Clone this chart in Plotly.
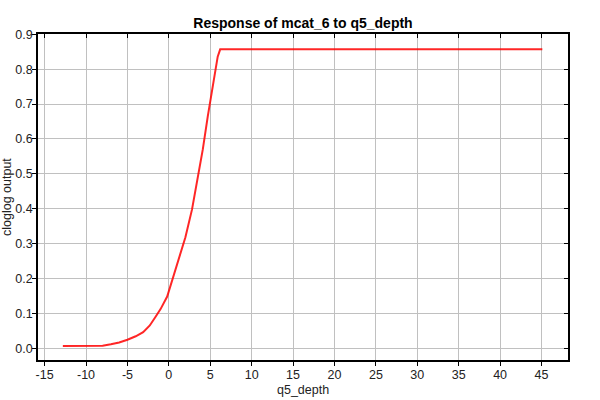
import plotly.graph_objects as go

# response curve
q5_depth = [-12.8, -11.0, -9.5, -8.0, -7.0, -6.0, -5.0, -4.0, -3.1, -2.3, -1.6,
            -1.0, -0.2, 0.2, 0.7, 1.2, 2.0, 2.8, 3.5, 4.1, 4.7, 5.3, 5.9, 6.2,
            10.0, 20.0, 30.0, 40.0, 45.1]
cloglog = [0.006, 0.006, 0.006, 0.007, 0.011, 0.016, 0.024, 0.034, 0.046, 0.065,
           0.090, 0.112, 0.148, 0.180, 0.215, 0.253, 0.318, 0.398, 0.485, 0.570,
           0.665, 0.755, 0.836, 0.857, 0.857, 0.857, 0.857, 0.857, 0.857]

x_ticks = list(range(-15, 50, 5))
y_ticks = [0.0, 0.1, 0.2, 0.3, 0.4, 0.5, 0.6, 0.7, 0.8, 0.9]
x_range = [-15.8, 48.2]
y_range = [-0.034, 0.901]

font = dict(family='Liberation Sans, Arial, sans-serif', size=12.5, color='#222')

fig = go.Figure()
fig.add_trace(go.Scatter(x=q5_depth, y=cloglog, mode='lines',
                         line=dict(color='rgba(255,0,0,0.85)', width=2),
                         showlegend=False, hoverinfo='skip'))
# invisible trace on mirrored axes so the inside ticks on top/right get drawn
fig.add_trace(go.Scatter(x=[x_range[0]], y=[y_range[0]], xaxis='x2', yaxis='y2',
                         mode='markers', marker=dict(opacity=0),
                         showlegend=False, hoverinfo='skip'))

axis_common = dict(showline=True, linecolor='black', linewidth=1.5,
                   ticks='outside', ticklen=4, tickcolor='black',
                   gridcolor='#c0c0c0', gridwidth=1, zeroline=False,
                   tickfont=font, automargin=False)

mirror_common = dict(showticklabels=False, ticks='inside', ticklen=4, tickcolor='black',
                     showline=True, linecolor='black', linewidth=1.5, showgrid=False,
                     zeroline=False, automargin=False)

fig.update_layout(
    width=600, height=400,
    paper_bgcolor='white', plot_bgcolor='white',
    margin=dict(l=38, r=32, t=34, b=40),
    title=dict(text='<b>Response of mcat_6 to q5_depth</b>', x=0.505, xanchor='center',
               y=1 - 23 / 400, yanchor='middle',
               font=dict(family='Liberation Sans, Arial, sans-serif', size=14, color='black')),
    xaxis=dict(range=x_range, tickvals=x_ticks, ticktext=[str(v) for v in x_ticks],
               ticklabelstandoff=-2, **axis_common),
    yaxis=dict(range=y_range, tickvals=y_ticks, ticktext=[f'{v:.1f}' for v in y_ticks],
               ticklabelstandoff=-3, **axis_common),
    xaxis2=dict(range=x_range, overlaying='x', side='top', tickvals=x_ticks, **mirror_common),
    yaxis2=dict(range=y_range, overlaying='y', side='right', tickvals=y_ticks, **mirror_common),
    annotations=[
        dict(text='q5_depth', xref='x', yref='paper', x=(x_range[0] + x_range[1]) / 2,
             y=-(390 - 360) / 326, xanchor='center', yanchor='middle',
             showarrow=False, font=font),
        dict(text='cloglog output', xref='paper', yref='y', x=-(38 - 7) / 530,
             y=(y_range[0] + y_range[1]) / 2, xanchor='center', yanchor='middle',
             textangle=-90, showarrow=False, font=font),
    ],
)

# drop the browser's default 8px body margin so the figure sits at the page corner
fig.write_html('out.html', config={'displayModeBar': False},
               post_script="document.body.style.margin='0';")
